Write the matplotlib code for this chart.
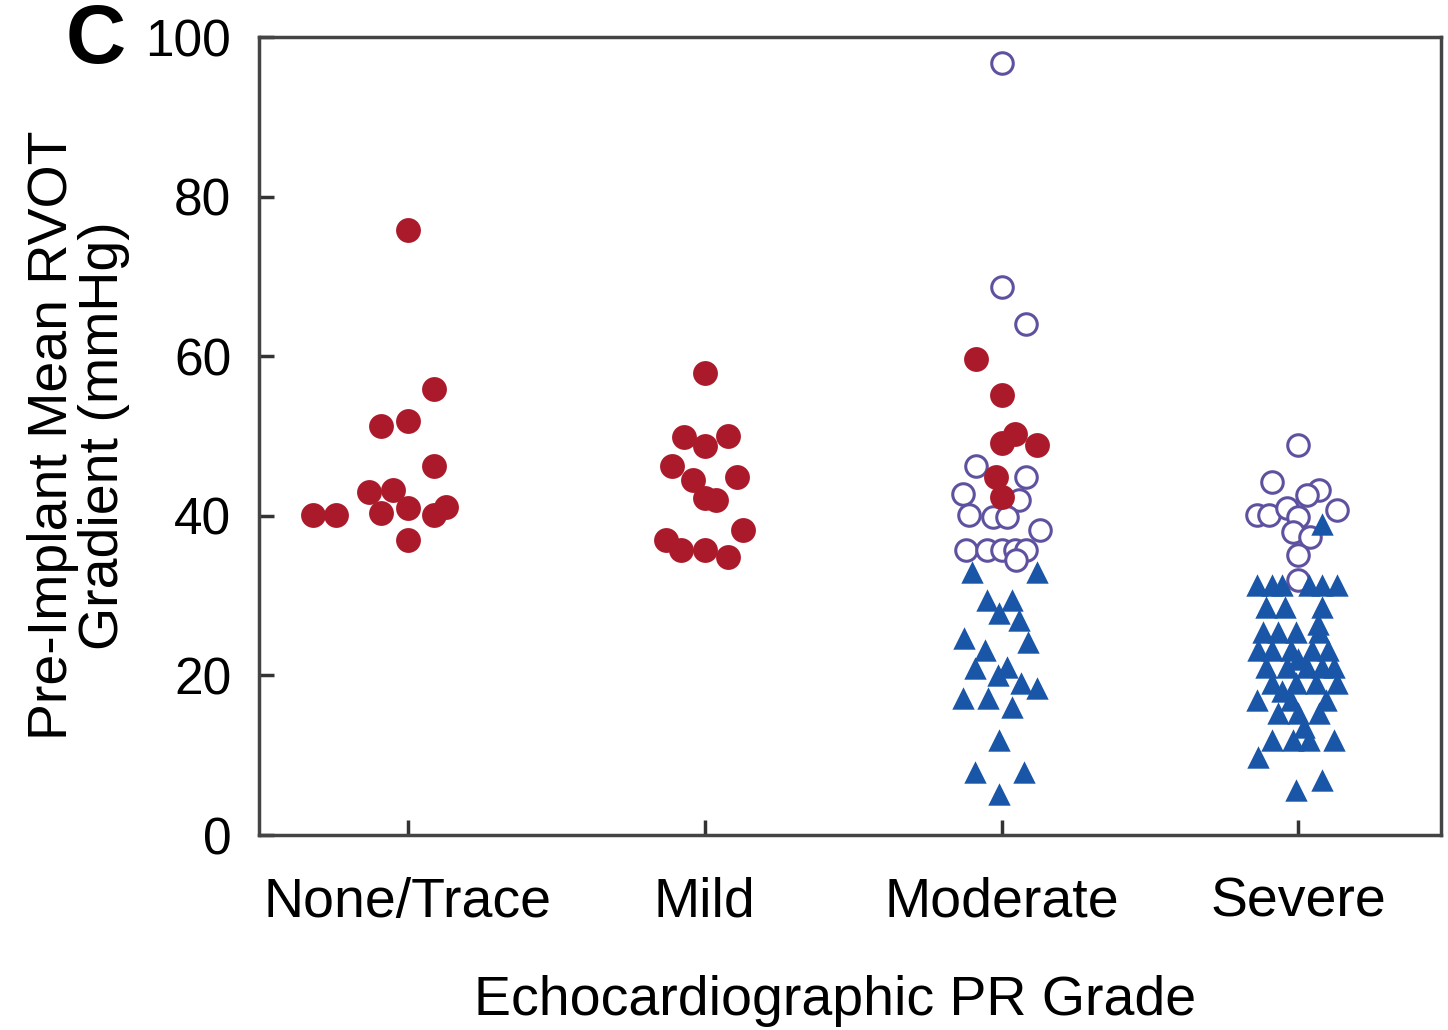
import matplotlib.pyplot as plt

plt.rcParams['font.family'] = ['Liberation Sans', 'DejaVu Sans']

categories = ['None/Trace', 'Mild', 'Moderate', 'Severe']

# filled red circles
none_vals = [75.8, 55.9, 51.2, 51.9, 46.2, 43.0, 43.2, 40.3, 41.0, 40.1, 41.1, 40.1, 40.1, 37.0]
none_dx = [0, .09, -.09, 0, .09, -.13, -.05, -.09, 0, .09, .13, -.32, -.24, 0]
mild_vals = [57.9, 49.9, 48.7, 50.0, 46.2, 44.5, 44.9, 42.2, 42.0, 38.2, 37.0, 35.7, 35.7, 34.9]
mild_dx = [0, -.07, 0, .08, -.11, -.04, .11, 0, .04, .13, -.13, -.08, 0, .08]
mod_red_vals = [59.7, 55.1, 49.1, 50.3, 48.9, 44.9, 42.4]
mod_red_dx = [-.085, 0, 0, .045, .12, -.02, 0]

# open circles
mod_open_vals = [96.7, 68.7, 64.1, 46.2, 44.9, 42.8, 42.0, 40.1, 39.9, 39.9, 38.2,
                 35.7, 35.7, 35.7, 35.7, 35.7, 34.5]
mod_open_dx = [0, 0, .083, -.085, .083, -.13, .06, -.11, -.03, .02, .13,
               -.12, -.05, 0, .045, .083, .05]
sev_open_vals = [48.9, 44.2, 43.2, 42.6, 40.1, 40.1, 41.0, 39.9, 40.7, 38.0, 37.4, 35.1, 32.0]
sev_open_dx = [0, -.09, .07, .03, -.14, -.1, -.04, 0, .13, -.02, .04, 0, 0]

# blue triangles
mod_tri_vals = [33, 33, 29.4, 29.4, 27.8, 26.9, 24.7, 24.2, 23.2, 20.9, 21.1, 20.0,
                19.0, 18.4, 17.2, 17.2, 16.0, 11.9, 7.9, 7.9, 5.2]
mod_tri_dx = [-.10, .12, -.05, .034, -.007, .06, -.125, .09, -.057, -.09, .02, -.013,
              .067, .12, -.13, -.047, .034, -.007, -.09, .077, -.007]
sev_tri_vals = [31.3, 31.3, 31.3, 31.3, 31.3, 31.3,
                28.6, 28.6, 28.6, 26.5,
                25.4, 25.4, 25.4, 25.4,
                23.2, 23.2, 23.2, 23.2, 23.2,
                21.1, 21.1, 21.1, 21.1, 21.1, 22.0,
                19.0, 19.0, 19.0, 19.0, 18.0,
                16.9, 16.9, 16.9,
                15.3, 15.3, 15.3, 13.5,
                11.9, 11.9, 11.9, 11.9,
                9.8, 6.9, 5.6, 39.0]
sev_tri_dx = [-.14, -.09, -.054, .037, .08, .128,
              -.108, -.047, .08, .064,
              -.12, -.07, -.007, .07,
              -.138, -.088, -.024, .044, .098,
              -.108, -.04, .027, .08, .12, 0,
              -.088, -.007, .06, .128, -.054,
              -.14, -.024, .094,
              -.07, -.003, .07, .02,
              -.088, -.02, .037, .12,
              -.138, .08, -.007, .08]

red = '#ab1a2b'
blue = '#1a56a8'
purple = '#5e52a0'

fig = plt.figure(figsize=(14.48, 10.3), dpi=100)
ax = fig.add_axes([0.1789, 0.1893, 0.8163, 0.7747])

ax.scatter([2 + d for d in mod_open_dx], mod_open_vals, s=240, facecolors='white',
           edgecolors=purple, linewidths=2.2, zorder=2)
ax.scatter([3 + d for d in sev_open_dx], sev_open_vals, s=240, facecolors='white',
           edgecolors=purple, linewidths=2.2, zorder=2)
ax.scatter([2 + d for d in mod_tri_dx], mod_tri_vals, s=260, marker='^', color=blue,
           linewidths=0, zorder=3)
ax.scatter([3 + d for d in sev_tri_dx], sev_tri_vals, s=260, marker='^', color=blue,
           linewidths=0, zorder=3)
ax.scatter([0 + d for d in none_dx], none_vals, s=320, color=red, linewidths=0, zorder=4)
ax.scatter([1 + d for d in mild_dx], mild_vals, s=320, color=red, linewidths=0, zorder=4)
ax.scatter([2 + d for d in mod_red_dx], mod_red_vals, s=320, color=red, linewidths=0, zorder=4)

ax.set_xlim(-0.5, 3.48)
ax.set_ylim(0, 100)
ax.set_xticks(range(len(categories)))
ax.set_xticklabels(categories, fontsize=40)
ax.set_yticks([0, 20, 40, 60, 80, 100])
ax.tick_params(axis='y', labelsize=37, direction='in', length=11, width=2.5,
               color='#333333', pad=20)
ax.tick_params(axis='x', direction='in', length=11, width=2.5, color='#333333', pad=30)
for sp in ax.spines.values():
    sp.set_linewidth(2.5)
    sp.set_color('#444444')

ax.set_xlabel('Echocardiographic PR Grade', fontsize=40)
ax.xaxis.set_label_coords(0.487, -0.175)
fig.text(0.054, 0.577, 'Pre-Implant Mean RVOT\nGradient (mmHg)', fontsize=40,
         rotation=90, ha='center', va='center', linespacing=0.98)
fig.text(0.066, 0.960, 'C', fontsize=60, fontweight='bold', ha='center', va='center')

plt.savefig('out.png', dpi=100)
